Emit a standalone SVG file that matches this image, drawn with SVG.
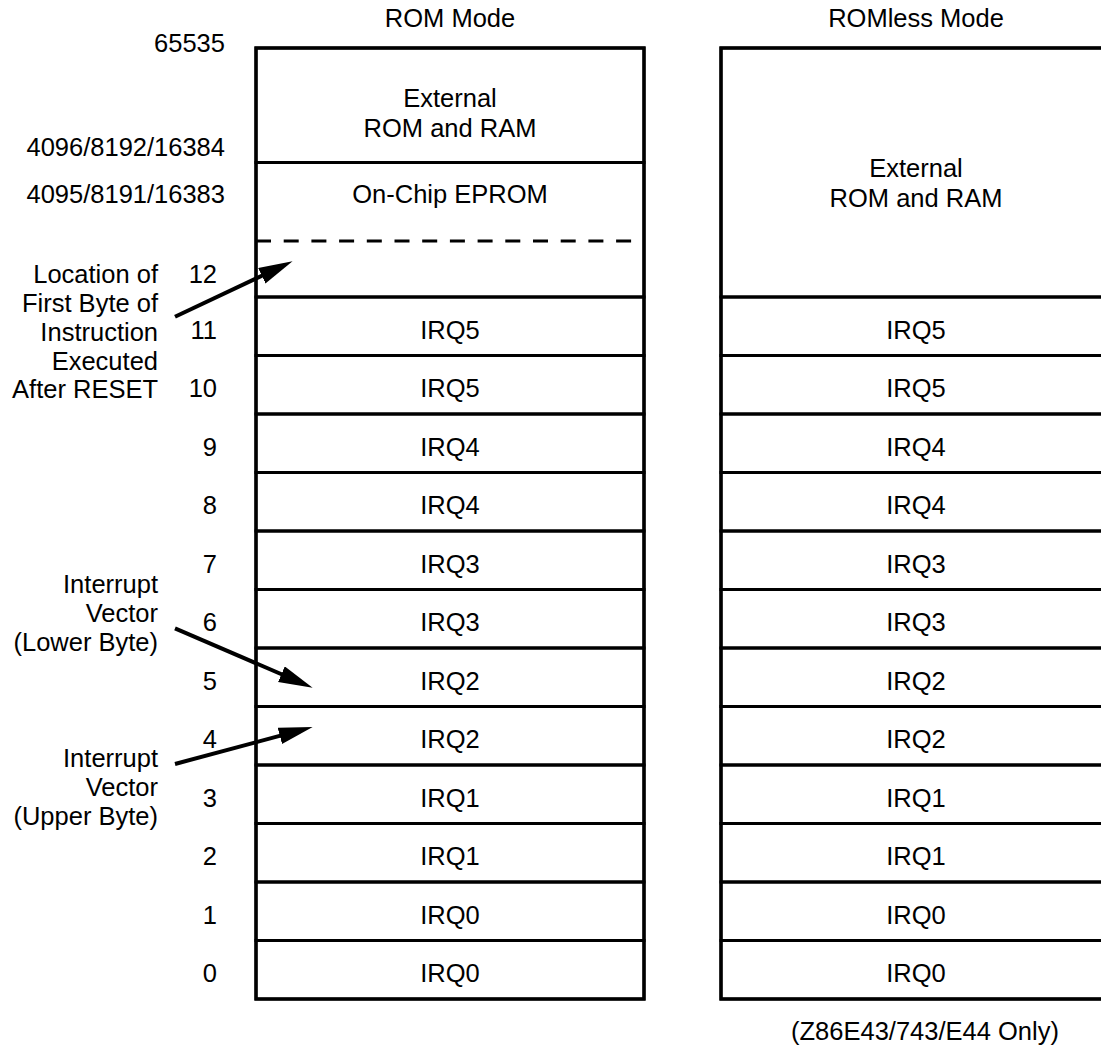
<svg xmlns="http://www.w3.org/2000/svg" width="1101" height="1046" viewBox="0 0 1101 1046">
<style>
text{font-family:"Liberation Sans",Arial,Helvetica,sans-serif;font-size:25.5px;fill:#000}
.c{text-anchor:middle}
.e{text-anchor:end}
.cell{fill:none;stroke:#000;stroke-width:3}
.outer{fill:none;stroke:#000;stroke-width:3.3}
.dash{fill:none;stroke:#000;stroke-width:3;stroke-dasharray:15 12.7}
.arrow{fill:none;stroke:#000;stroke-width:4;marker-end:url(#ah)}
</style>
<defs>
<marker id="ah" markerUnits="userSpaceOnUse" markerWidth="36" markerHeight="18" refX="21" refY="8.5" orient="auto">
<path d="M0,0 L34,8.5 L0,17 Z" fill="#000"/>
</marker>
</defs>
<rect width="1101" height="1046" fill="#fff"/>

<g id="title-rom"><text class="c" x="450" y="27">ROM Mode</text></g>
<g id="title-romless"><text class="c" x="916" y="27">ROMless Mode</text></g>

<g id="addr-65535"><text class="e" x="225" y="51.5">65535</text></g>
<g id="addr-4096"><text class="e" x="225" y="156">4096/8192/16384</text></g>
<g id="addr-4095"><text class="e" x="225" y="202.5">4095/8191/16383</text></g>

<g id="idx">
<text class="e" x="217" y="283">12</text>
<text class="e" x="217" y="338.5">11</text>
<text class="e" x="217" y="397">10</text>
<text class="e" x="217" y="455.5">9</text>
<text class="e" x="217" y="514">8</text>
<text class="e" x="217" y="572.5">7</text>
<text class="e" x="217" y="631">6</text>
<text class="e" x="217" y="689.5">5</text>
<text class="e" x="217" y="748">4</text>
<text class="e" x="217" y="806.5">3</text>
<text class="e" x="217" y="865">2</text>
<text class="e" x="217" y="923.5">1</text>
<text class="e" x="217" y="982">0</text>
</g>

<g id="note-reset">
<text class="e" x="158" y="283">Location of</text>
<text class="e" x="158" y="312">First Byte of</text>
<text class="e" x="158" y="340.5">Instruction</text>
<text class="e" x="158" y="369.5">Executed</text>
<text class="e" x="158" y="398">After RESET</text>
</g>
<g id="note-lower">
<text class="e" x="158" y="592.5">Interrupt</text>
<text class="e" x="158" y="621.5">Vector</text>
<text class="e" x="158" y="650.5">(Lower Byte)</text>
</g>
<g id="note-upper">
<text class="e" x="158" y="767">Interrupt</text>
<text class="e" x="158" y="796">Vector</text>
<text class="e" x="158" y="825">(Upper Byte)</text>
</g>

<!-- ROM mode map -->
<g id="rom-external"><rect class="cell" x="256" y="48" width="388" height="114.5"/><text class="c" x="450" y="107">External</text><text class="c" x="450" y="137">ROM and RAM</text></g>
<g id="rom-eprom"><rect class="cell" x="256" y="162.5" width="388" height="134.5"/><text class="c" x="450" y="203">On-Chip EPROM</text><line class="dash" x1="256" y1="241" x2="633" y2="241"/></g>
<g id="rom-11"><rect class="cell" x="256" y="297" width="388" height="58.5"/><text class="c" x="450" y="338.5">IRQ5</text></g>
<g id="rom-10"><rect class="cell" x="256" y="355.5" width="388" height="58.5"/><text class="c" x="450" y="397">IRQ5</text></g>
<g id="rom-9"><rect class="cell" x="256" y="414" width="388" height="58.5"/><text class="c" x="450" y="455.5">IRQ4</text></g>
<g id="rom-8"><rect class="cell" x="256" y="472.5" width="388" height="58.5"/><text class="c" x="450" y="514">IRQ4</text></g>
<g id="rom-7"><rect class="cell" x="256" y="531" width="388" height="58.5"/><text class="c" x="450" y="572.5">IRQ3</text></g>
<g id="rom-6"><rect class="cell" x="256" y="589.5" width="388" height="58.5"/><text class="c" x="450" y="631">IRQ3</text></g>
<g id="rom-5"><rect class="cell" x="256" y="648" width="388" height="58.5"/><text class="c" x="450" y="689.5">IRQ2</text></g>
<g id="rom-4"><rect class="cell" x="256" y="706.5" width="388" height="58.5"/><text class="c" x="450" y="748">IRQ2</text></g>
<g id="rom-3"><rect class="cell" x="256" y="765" width="388" height="58.5"/><text class="c" x="450" y="806.5">IRQ1</text></g>
<g id="rom-2"><rect class="cell" x="256" y="823.5" width="388" height="58.5"/><text class="c" x="450" y="865">IRQ1</text></g>
<g id="rom-1"><rect class="cell" x="256" y="882" width="388" height="58.5"/><text class="c" x="450" y="923.5">IRQ0</text></g>
<g id="rom-0"><rect class="cell" x="256" y="940.5" width="388" height="58.5"/><text class="c" x="450" y="982">IRQ0</text></g>
<rect class="outer" x="256" y="48" width="388" height="951"/>

<!-- ROMless mode map -->
<g id="romless-external"><rect class="cell" x="721" y="48" width="390" height="249"/><text class="c" x="916" y="177">External</text><text class="c" x="916" y="207">ROM and RAM</text></g>
<g id="romless-11"><rect class="cell" x="721" y="297" width="390" height="58.5"/><text class="c" x="916" y="338.5">IRQ5</text></g>
<g id="romless-10"><rect class="cell" x="721" y="355.5" width="390" height="58.5"/><text class="c" x="916" y="397">IRQ5</text></g>
<g id="romless-9"><rect class="cell" x="721" y="414" width="390" height="58.5"/><text class="c" x="916" y="455.5">IRQ4</text></g>
<g id="romless-8"><rect class="cell" x="721" y="472.5" width="390" height="58.5"/><text class="c" x="916" y="514">IRQ4</text></g>
<g id="romless-7"><rect class="cell" x="721" y="531" width="390" height="58.5"/><text class="c" x="916" y="572.5">IRQ3</text></g>
<g id="romless-6"><rect class="cell" x="721" y="589.5" width="390" height="58.5"/><text class="c" x="916" y="631">IRQ3</text></g>
<g id="romless-5"><rect class="cell" x="721" y="648" width="390" height="58.5"/><text class="c" x="916" y="689.5">IRQ2</text></g>
<g id="romless-4"><rect class="cell" x="721" y="706.5" width="390" height="58.5"/><text class="c" x="916" y="748">IRQ2</text></g>
<g id="romless-3"><rect class="cell" x="721" y="765" width="390" height="58.5"/><text class="c" x="916" y="806.5">IRQ1</text></g>
<g id="romless-2"><rect class="cell" x="721" y="823.5" width="390" height="58.5"/><text class="c" x="916" y="865">IRQ1</text></g>
<g id="romless-1"><rect class="cell" x="721" y="882" width="390" height="58.5"/><text class="c" x="916" y="923.5">IRQ0</text></g>
<g id="romless-0"><rect class="cell" x="721" y="940.5" width="390" height="58.5"/><text class="c" x="916" y="982">IRQ0</text></g>
<rect class="outer" x="721" y="48" width="390" height="951"/>

<g id="footnote"><text class="c" x="925" y="1040">(Z86E43/743/E44 Only)</text></g>

<g id="connectors">
<line class="arrow" x1="175" y1="316.7" x2="280.8" y2="266.8"/>
<line class="arrow" x1="175" y1="628.3" x2="300.7" y2="682.5"/>
<line class="arrow" x1="175" y1="764" x2="300.1" y2="730.4"/>
</g>
</svg>
